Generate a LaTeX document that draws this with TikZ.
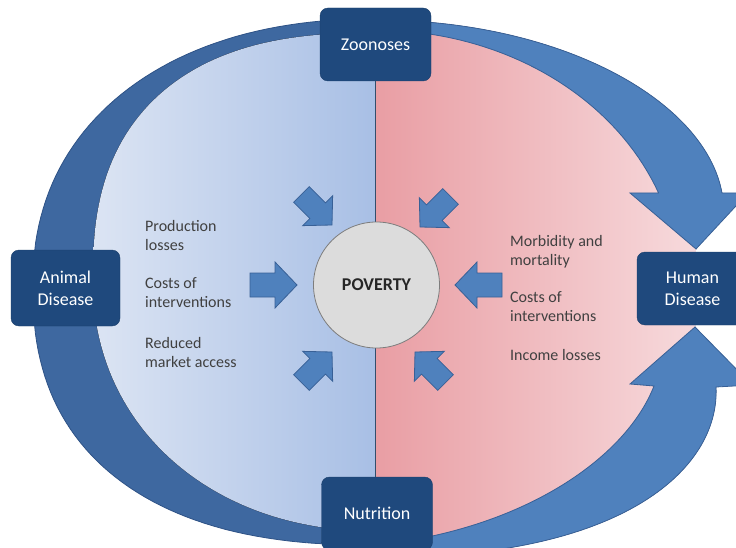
\documentclass[tikz,border=0pt]{standalone}
\usepackage{fontspec}
\setmainfont{Carlito}
\definecolor{bandblue}{RGB}{62,104,160}
\definecolor{bandedge}{RGB}{46,82,134}
\definecolor{arrowblue}{RGB}{79,129,189}
\definecolor{arrowedge}{RGB}{56,96,150}
\definecolor{boxblue}{RGB}{31,73,125}
\definecolor{lightblueL}{RGB}{222,230,244}
\definecolor{lightblueR}{RGB}{168,191,229}
\definecolor{pinkL}{RGB}{233,158,164}
\definecolor{pinkR}{RGB}{248,224,226}
\definecolor{txt}{RGB}{64,64,64}
\definecolor{povfill}{RGB}{220,220,220}
\definecolor{povedge}{RGB}{125,125,125}
\definecolor{divider}{RGB}{50,78,108}
\begin{document}
\begin{tikzpicture}[x=1pt,y=-1pt,
  declare function={spw(\c,\p)=sign(\c)*(abs(\c)+0.00001)^\p;},
  kbox/.style={fill=boxblue, draw=boxblue!85!black, rounded corners=8pt, text=white,
    font=\fontsize{18}{22}\selectfont, align=center, minimum width=111pt, inner sep=0pt},
  desc/.style={text=txt, font=\fontsize{16}{19}\selectfont, align=left, anchor=base west, inner sep=0pt},
  bigarrow/.style={fill=arrowblue, draw=arrowedge, line width=0.8pt, line join=miter},
  bandst/.style={fill=bandblue, draw=bandedge, line width=0.8pt},
  smallarr/.style={fill=arrowblue, draw=arrowedge, line width=0.8pt, line join=miter},
  smallarrow/.pic={\path[smallarr] (0,0) -- (-22,-23) -- (-22,-12) -- (-47,-12) -- (-47,12) -- (-22,12) -- (-22,23) -- cycle;}
]
\useasboundingbox (0,0) rectangle (736,548);
\clip (0,0) rectangle (736,548);

% left dark band (outer: top to bottom, inner: bottom to top)
\path[bandst]
  plot[domain=-90:-180, samples=50, variable=\t] ({376+343*spw(cos(\t),0.909)}, {285+266*spw(sin(\t),0.909)})
  -- plot[domain=180:90, samples=50, variable=\t] ({376+343*spw(cos(\t),0.833)}, {285+260*spw(sin(\t),0.833)})
  -- plot[domain=90:180, samples=50, variable=\t] ({376+283*spw(cos(\t),0.952)}, {280+251*spw(sin(\t),0.952)})
  -- plot[domain=-180:-90, samples=50, variable=\t] ({376+283*spw(cos(\t),0.8)}, {280+247*spw(sin(\t),0.8)})
  -- cycle;

% inner region with two gradients
\begin{scope}
\clip plot[domain=90:180, samples=50, variable=\t] ({376+283*spw(cos(\t),0.952)}, {280+251*spw(sin(\t),0.952)})
  -- plot[domain=-180:-90, samples=50, variable=\t] ({376+283*spw(cos(\t),0.8)}, {280+247*spw(sin(\t),0.8)})
  -- (376,20) .. controls (560,20) and (705,100) .. (722,193)
  -- (696,249) -- (695,327) -- (716,387)
  .. controls (720,470) and (620,560) .. (376,557) -- cycle;
\fill[left color=lightblueL, right color=lightblueR] (80,0) rectangle (376,560);
\fill[left color=pinkL, right color=pinkR] (376,0) rectangle (730,560);
\end{scope}

% right curved arrows
\path[bigarrow] (376,20) .. controls (560,20) and (705,100) .. (722,193)
  -- (748,193) -- (696,249) -- (630,193) -- (658.5,193)
  -- plot[domain=-21.2:-90, samples=40, variable=\t] ({376+303*cos(\t)}, {285+255*sin(\t)}) -- cycle;
\path[bigarrow] (376,557) .. controls (620,560) and (720,470) .. (716,387)
  -- (752,385) -- (695,327) -- (630,384) -- (654,386)
  .. controls (625,460) and (520,530) .. (376,545) -- cycle;

% boxes
\node[kbox, minimum height=73pt] (zoo) at (375.5,44.5) {Zoonoses};
\node[kbox, minimum width=109pt, minimum height=76pt] (animal) at (65.5,288) {Animal\\Disease};
\node[kbox, minimum height=73pt] (human) at (692.5,288.5) {Human\\Disease};
\node[kbox, minimum height=73pt] (nutr) at (377,513.5) {Nutrition};

\draw[divider, line width=1.2pt] (zoo.south) -- (zoo.south |- nutr.north);

% poverty
\node[circle, fill=povfill, draw=povedge, line width=0.8pt, minimum size=126pt, inner sep=0pt,
  font=\bfseries\fontsize{18}{22}\selectfont, text=black!85] (pov) at (376.5,285) {POVERTY};

% small arrows
\pic at (297,285) {smallarrow};
\pic[rotate=180] at (455,285) {smallarrow};
\pic[rotate=-45, scale=.92] at (332,225) {smallarrow};
\pic[rotate=-135, scale=.92] at (420,227) {smallarrow};
\pic[rotate=45, scale=.92] at (332,352) {smallarrow};
\pic[rotate=135, scale=.92] at (415,352) {smallarrow};

% texts (anchored at the baseline of the last line)
\node[desc] (t1) at (145,251) {Production\\losses};
\node[desc] (t2) at (145,307) {Costs of\\interventions};
\node[desc] (t3) at (145,367) {Reduced\\market access};
\node[desc] (t4) at (510,265) {Morbidity and\\mortality};
\node[desc] (t5) at (510,321) {Costs of\\interventions};
\node[desc] (t6) at (510,360) {Income losses};
\end{tikzpicture}
\end{document}
